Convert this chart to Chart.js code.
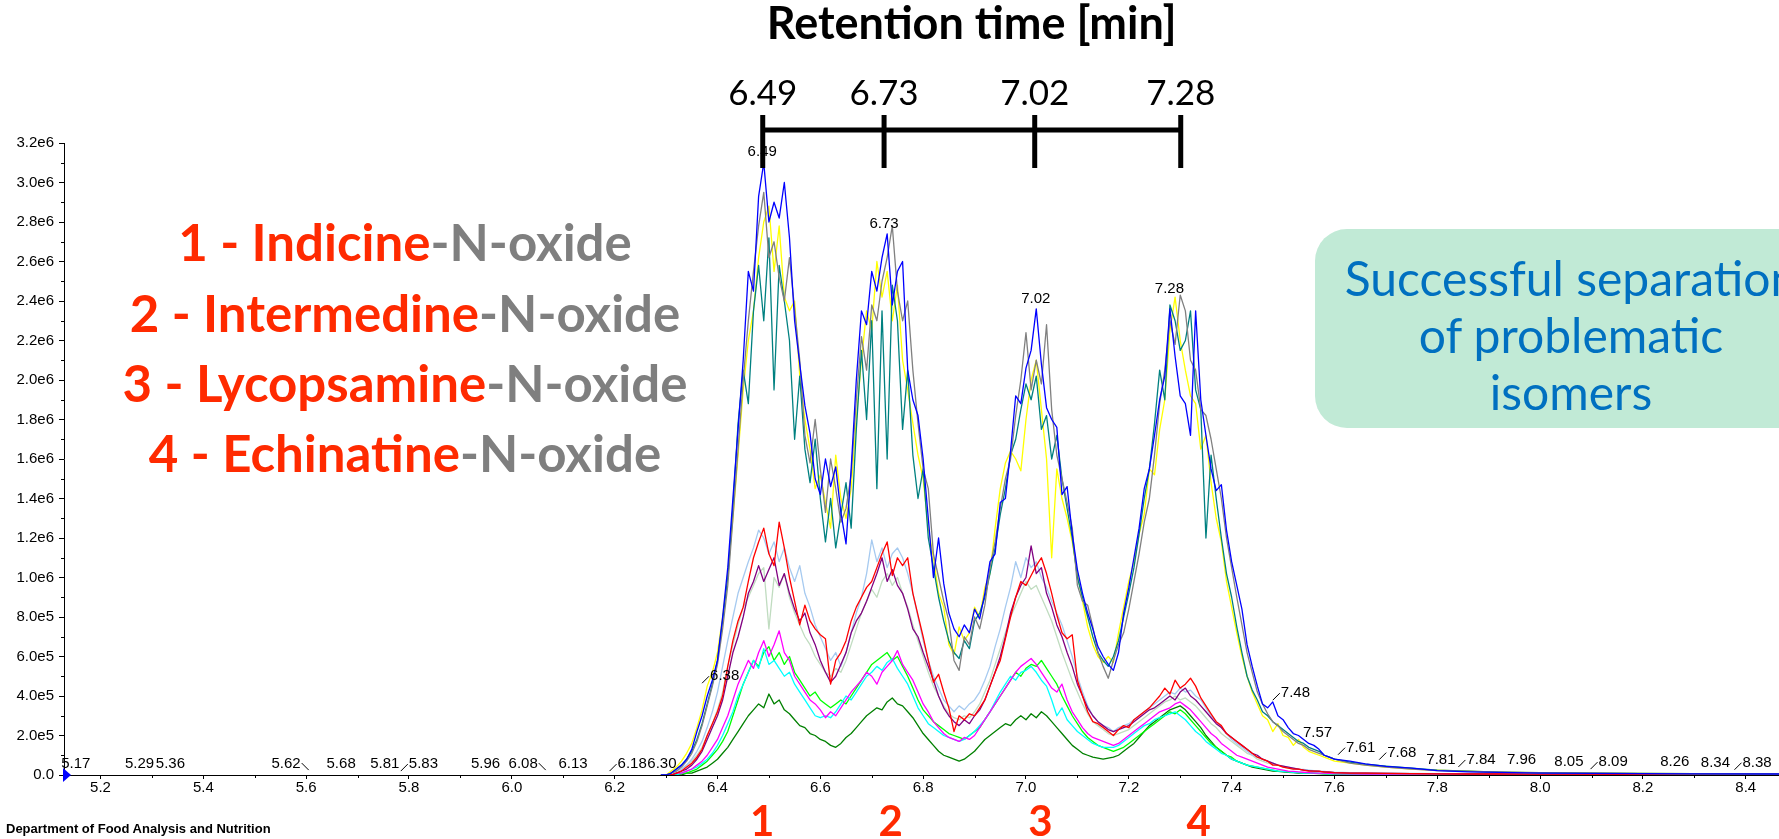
<!DOCTYPE html>
<html><head><meta charset="utf-8">
<script src="https://cdn.jsdelivr.net/npm/chart.js@4.4.1/dist/chart.umd.min.js"></script>
<style>
html,body{margin:0;padding:0;background:#fff;overflow:hidden;width:1779px;height:839px;}
#wrap{position:relative;width:1779px;height:839px;overflow:hidden;background:#fff;}
canvas{position:absolute;left:0;top:0;}
.lg{position:absolute;left:55px;width:700px;text-align:center;font:700 51px Lato,sans-serif;height:70px;line-height:70px;white-space:nowrap;}
.lg .r{color:#ff2a00}.lg .g{color:#7f7f7f}
#box{position:absolute;left:1315px;top:229px;width:540px;height:199px;background:#c1ead6;border-radius:32px;}
.bx{position:absolute;left:1271px;width:600px;text-align:center;font:400 48px Lato,sans-serif;color:#0070c0;height:57px;line-height:57px;white-space:nowrap;}
#dept{position:absolute;left:6px;top:821px;font:700 13px "Liberation Sans Narrow","Liberation Sans",sans-serif;color:#000;white-space:nowrap;}
</style></head>
<body><div id="wrap">
<canvas id="c" width="1779" height="839"></canvas>
<div class="lg" style="top:207px"><span class="r">1 - Indicine</span><span class="g">-N-oxide</span></div>
<div class="lg" style="top:278px"><span class="r">2 - Intermedine</span><span class="g">-N-oxide</span></div>
<div class="lg" style="top:348px"><span class="r">3 - Lycopsamine</span><span class="g">-N-oxide</span></div>
<div class="lg" style="top:418px"><span class="r">4 - Echinatine</span><span class="g">-N-oxide</span></div>
<div id="box"></div>
<div class="bx" style="top:249px">Successful separation</div>
<div class="bx" style="top:306px">of problematic</div>
<div class="bx" style="top:363px">isomers</div>
<div id="dept">Department of Food Analysis and Nutrition</div>
</div>
<script>
// ---- retention time grid (min) ----
const times = [6.29,
 6.30,6.31,6.32,6.33,6.34,6.35,6.36,6.37,6.38,6.39,
 6.40,6.41,6.42,6.43,6.44,6.45,6.46,6.47,6.48,6.49,
 6.50,6.51,6.52,6.53,6.54,6.55,6.56,6.57,6.58,6.59,
 6.60,6.61,6.62,6.63,6.64,6.65,6.66,6.67,6.68,6.69,
 6.70,6.71,6.72,6.73,6.74,6.75,6.76,6.77,6.78,6.79,
 6.80,6.81,6.82,6.83,6.84,6.85,6.86,6.87,6.88,6.89,
 6.90,6.91,6.92,6.93,6.94,6.95,6.96,6.97,6.98,6.99,
 7.00,7.01,7.02,7.03,7.04,7.05,7.06,7.07,7.08,7.09,
 7.10,7.11,7.12,7.13,7.14,7.15,7.16,7.17,7.18,7.19,
 7.20,7.21,7.22,7.23,7.24,7.25,7.26,7.27,7.28,7.29,
 7.30,7.31,7.32,7.33,7.34,7.35,7.36,7.37,7.38,7.39,
 7.40,7.41,7.42,7.43,7.44,7.45,7.46,7.47,7.48,7.49,
 7.50,7.51,7.52,7.53,7.54,7.55,7.56,7.57,7.58,7.59,
 7.60,
 7.63,7.66,7.70,7.75,7.80,7.86,7.92,8.00,8.10,8.20,8.30,8.50];

// ---- intensities (units of 1e6 counts) ----
const blueTrace = [0,
 0.00,0.01,0.03,0.05,0.08,0.13,0.22,0.30,0.40,0.48,
 0.58,0.80,1.05,1.40,1.75,2.10,2.55,2.45,2.93,3.10,
 2.80,2.90,2.82,3.00,2.72,2.30,2.08,1.87,1.73,1.50,
 1.42,1.60,1.46,1.56,1.33,1.17,1.55,2.00,2.35,2.28,
 2.55,2.45,2.62,2.74,2.38,2.55,2.60,2.05,1.90,1.82,
 1.60,1.30,1.00,1.20,0.97,0.82,0.74,0.70,0.76,0.72,
 0.84,0.79,0.92,1.08,1.12,1.38,1.40,1.64,1.92,1.88,
 2.06,2.15,2.36,2.08,1.86,1.80,1.76,1.42,1.46,1.22,
 1.04,0.92,0.82,0.74,0.65,0.60,0.56,0.53,0.62,0.82,
 0.95,1.10,1.25,1.45,1.55,1.72,1.90,2.02,2.36,2.12,
 1.92,1.88,1.72,2.35,1.90,1.72,1.55,1.44,1.47,1.24,
 1.08,0.96,0.84,0.66,0.55,0.45,0.36,0.34,0.37,0.30,
 0.28,0.24,0.21,0.20,0.18,0.16,0.15,0.13,0.10,0.09,
 0.08,
 0.07,0.056,0.044,0.035,0.022,0.016,0.013,0.009,0.008,0.007,0.006,0.005];

const grayTrace = [0,
 0.00,0.01,0.02,0.04,0.07,0.11,0.17,0.25,0.35,0.45,
 0.56,0.74,0.96,1.30,1.65,2.00,2.30,2.55,2.78,2.95,
 2.62,2.70,2.52,2.40,2.62,2.36,2.10,1.72,1.58,1.80,
 1.55,1.33,1.60,1.45,1.28,1.35,1.52,1.90,2.22,2.05,
 2.38,2.30,2.50,2.62,2.78,2.45,2.30,2.40,2.05,1.78,
 1.55,1.45,1.12,1.00,0.88,0.78,0.58,0.53,0.70,0.66,
 0.80,0.74,0.86,1.05,1.18,1.35,1.50,1.60,1.82,2.00,
 2.24,1.95,2.10,1.98,2.28,1.85,1.62,1.50,1.38,1.25,
 0.96,0.88,0.86,0.75,0.62,0.55,0.49,0.58,0.66,0.72,
 0.84,0.98,1.12,1.28,1.40,1.62,1.88,2.05,2.30,2.18,
 2.43,2.35,2.10,2.05,1.85,1.82,1.70,1.55,1.40,1.20,
 1.05,0.90,0.76,0.62,0.52,0.42,0.36,0.31,0.27,0.25,
 0.22,0.20,0.18,0.16,0.15,0.13,0.12,0.11,0.10,0.09,
 0.08,
 0.06,0.05,0.04,0.03,0.022,0.018,0.014,0.011,0.009,0.007,0.006,0.005];

const yellowTrace = [0,
 0.00,0.02,0.04,0.07,0.11,0.16,0.24,0.33,0.45,0.52,
 0.62,0.80,1.02,1.30,1.62,1.95,2.20,2.35,2.62,2.80,
 2.88,2.55,2.78,2.42,2.35,2.40,2.02,1.80,1.65,1.45,
 1.52,1.38,1.25,1.62,1.40,1.30,1.45,1.80,2.10,2.35,
 2.25,2.60,2.42,2.55,2.30,2.48,2.10,1.95,1.78,1.62,
 1.50,1.25,1.10,0.92,0.85,0.66,0.61,0.75,0.68,0.72,
 0.85,0.80,0.95,1.02,1.25,1.45,1.58,1.64,1.60,1.54,
 1.80,2.00,2.10,1.85,1.60,1.10,1.55,1.40,1.30,1.18,
 1.02,0.88,0.75,0.66,0.60,0.57,0.60,0.57,0.72,0.85,
 0.98,1.08,1.22,1.32,1.55,1.52,1.75,1.90,2.25,2.42,
 2.20,2.05,1.92,1.88,1.65,1.72,1.48,1.30,1.18,0.98,
 0.85,0.72,0.60,0.50,0.42,0.36,0.30,0.28,0.22,0.26,
 0.20,0.19,0.15,0.18,0.14,0.12,0.11,0.10,0.09,0.08,
 0.07,
 0.06,0.05,0.04,0.03,0.025,0.02,0.015,0.012,0.01,0.008,0.007,0.006];

const tealTrace = [0,
 0.00,0.01,0.03,0.05,0.08,0.12,0.18,0.26,0.36,0.46,
 0.58,0.78,1.00,1.35,1.78,2.05,1.88,2.35,2.58,2.30,
 2.72,1.95,2.58,2.40,2.20,1.70,2.02,1.65,1.48,1.70,
 1.40,1.18,1.40,1.15,1.32,1.48,1.25,1.75,2.15,1.80,
 2.30,1.45,2.35,1.60,2.48,2.30,1.75,2.05,1.62,1.40,
 1.55,1.20,1.05,0.90,0.78,0.68,0.62,0.59,0.68,0.64,
 0.78,0.82,0.90,1.02,1.15,1.32,1.45,1.62,1.70,1.85,
 1.98,1.90,2.02,1.75,1.82,1.60,1.72,1.50,1.35,1.20,
 1.00,0.90,0.80,0.70,0.62,0.58,0.55,0.60,0.68,0.80,
 0.92,1.05,1.22,1.40,1.55,1.78,2.05,1.90,2.38,2.30,
 2.15,2.20,2.35,1.95,1.85,1.20,1.62,1.40,1.20,1.02,
 0.90,0.75,0.62,0.50,0.43,0.38,0.32,0.30,0.27,0.25,
 0.23,0.21,0.19,0.17,0.16,0.14,0.13,0.12,0.10,0.09,
 0.08,
 0.065,0.055,0.045,0.035,0.025,0.02,0.015,0.012,0.01,0.008,0.007,0.006];

const redTrace = [0,
 0.00,0.00,0.01,0.02,0.04,0.06,0.09,0.13,0.20,0.26,
 0.32,0.40,0.55,0.68,0.78,0.85,0.98,1.10,1.18,1.25,
 1.12,1.06,1.28,1.15,1.00,0.88,0.76,0.86,0.78,0.74,
 0.71,0.69,0.46,0.58,0.62,0.68,0.78,0.85,0.90,0.95,
 0.98,1.05,1.12,1.18,1.01,1.10,1.06,1.10,0.92,0.81,
 0.70,0.58,0.47,0.51,0.42,0.34,0.22,0.30,0.28,0.31,
 0.30,0.34,0.38,0.45,0.52,0.58,0.69,0.80,0.90,0.98,
 0.96,1.01,1.06,1.10,1.02,0.92,0.81,0.72,0.69,0.71,
 0.48,0.40,0.32,0.27,0.26,0.24,0.22,0.20,0.23,0.25,
 0.24,0.28,0.30,0.32,0.34,0.37,0.40,0.44,0.41,0.48,
 0.44,0.46,0.49,0.45,0.39,0.35,0.31,0.27,0.25,0.21,
 0.19,0.17,0.15,0.13,0.11,0.09,0.08,0.07,0.05,0.05,
 0.04,0.035,0.03,0.03,0.025,0.02,0.02,0.02,0.015,0.015,
 0.012,
 0.01,0.01,0.008,0.007,0.006,0.005,0.005,0.004,0.004,0.003,0.003,0.003];

const purpleTrace = [0,
 0.00,0.00,0.01,0.02,0.03,0.05,0.08,0.12,0.18,0.24,
 0.30,0.38,0.50,0.62,0.70,0.80,0.92,0.98,1.06,0.98,
 1.04,1.10,0.96,1.02,0.92,0.84,0.78,0.82,0.72,0.66,
 0.58,0.52,0.47,0.50,0.56,0.62,0.72,0.78,0.82,0.88,
 0.95,1.02,1.10,0.98,1.04,0.96,0.92,0.84,0.74,0.70,
 0.62,0.55,0.48,0.40,0.34,0.30,0.27,0.25,0.28,0.26,
 0.30,0.33,0.38,0.45,0.52,0.60,0.70,0.82,0.90,0.96,
 1.00,1.16,1.02,1.05,0.92,0.85,0.76,0.70,0.62,0.55,
 0.46,0.40,0.34,0.30,0.27,0.25,0.23,0.22,0.23,0.24,
 0.25,0.27,0.29,0.31,0.33,0.34,0.36,0.38,0.40,0.38,
 0.42,0.44,0.40,0.38,0.35,0.32,0.29,0.26,0.24,0.21,
 0.19,0.17,0.15,0.13,0.11,0.10,0.08,0.07,0.06,0.05,
 0.045,0.04,0.035,0.03,0.025,0.022,0.02,0.018,0.016,0.014,
 0.012,
 0.01,0.009,0.008,0.007,0.006,0.005,0.005,0.004,0.004,0.003,0.003,0.003];

const lightBlueTrace = [0,
 0.00,0.01,0.02,0.03,0.05,0.08,0.12,0.17,0.24,0.32,
 0.42,0.55,0.68,0.80,0.92,1.00,1.08,1.15,1.24,1.20,
 1.12,1.18,1.08,1.15,1.05,0.98,1.06,0.92,0.85,0.76,
 0.70,0.64,0.58,0.62,0.55,0.62,0.72,0.82,0.90,1.02,
 1.19,1.08,1.15,1.05,1.12,1.15,1.10,1.02,0.92,0.80,
 0.68,0.58,0.50,0.44,0.38,0.35,0.32,0.35,0.33,0.36,
 0.38,0.42,0.48,0.55,0.65,0.74,0.85,0.95,1.08,1.00,
 1.10,1.05,1.08,1.00,0.95,0.88,0.82,0.76,0.68,0.60,
 0.50,0.42,0.35,0.30,0.27,0.25,0.24,0.22,0.24,0.25,
 0.26,0.28,0.30,0.32,0.34,0.36,0.38,0.40,0.42,0.41,
 0.44,0.42,0.43,0.40,0.38,0.34,0.30,0.27,0.24,0.21,
 0.18,0.16,0.14,0.12,0.10,0.09,0.08,0.07,0.06,0.05,
 0.045,0.04,0.035,0.03,0.028,0.025,0.022,0.02,0.018,0.016,
 0.014,
 0.012,0.01,0.009,0.008,0.007,0.006,0.005,0.004,0.004,0.003,0.003,0.003];

const grayGreenTrace = [0,
 0.00,0.01,0.02,0.03,0.05,0.07,0.10,0.14,0.20,0.26,
 0.33,0.42,0.55,0.66,0.76,0.85,0.90,0.96,1.02,1.05,
 0.74,1.00,0.95,1.02,0.90,0.82,0.76,0.70,0.66,0.60,
 0.56,0.52,0.50,0.54,0.52,0.58,0.66,0.74,0.82,0.88,
 0.94,0.90,0.98,1.02,0.96,1.00,0.92,0.85,0.76,0.68,
 0.60,0.52,0.45,0.40,0.35,0.31,0.29,0.28,0.30,0.29,
 0.32,0.36,0.42,0.48,0.56,0.64,0.72,0.80,0.86,0.92,
 0.98,0.94,0.96,0.90,0.84,0.78,0.70,0.62,0.55,0.48,
 0.42,0.36,0.31,0.27,0.25,0.23,0.21,0.20,0.21,0.22,
 0.23,0.25,0.27,0.29,0.31,0.33,0.35,0.37,0.38,0.40,
 0.38,0.39,0.37,0.35,0.32,0.29,0.26,0.24,0.21,0.19,
 0.17,0.15,0.13,0.11,0.10,0.08,0.07,0.06,0.055,0.05,
 0.04,0.035,0.03,0.028,0.025,0.022,0.02,0.018,0.016,0.014,
 0.012,
 0.01,0.009,0.008,0.007,0.006,0.005,0.005,0.004,0.004,0.003,0.003,0.003];

const magentaTrace = [0,
 0.00,0.00,0.01,0.01,0.02,0.03,0.05,0.07,0.10,0.14,
 0.18,0.24,0.30,0.38,0.46,0.52,0.58,0.54,0.62,0.68,
 0.60,0.66,0.73,0.62,0.58,0.50,0.46,0.42,0.38,0.36,
 0.33,0.29,0.32,0.30,0.34,0.38,0.42,0.45,0.48,0.52,
 0.50,0.46,0.52,0.55,0.58,0.63,0.56,0.52,0.48,0.42,
 0.36,0.32,0.27,0.24,0.21,0.19,0.18,0.17,0.19,0.18,
 0.20,0.24,0.28,0.32,0.36,0.40,0.44,0.48,0.52,0.55,
 0.57,0.59,0.56,0.52,0.48,0.44,0.42,0.46,0.38,0.32,
 0.28,0.24,0.21,0.19,0.18,0.17,0.16,0.15,0.16,0.18,
 0.20,0.22,0.24,0.26,0.28,0.30,0.32,0.33,0.34,0.36,
 0.37,0.35,0.33,0.30,0.27,0.24,0.21,0.19,0.16,0.14,
 0.12,0.10,0.09,0.08,0.07,0.06,0.05,0.04,0.035,0.03,
 0.025,0.02,0.018,0.016,0.014,0.012,0.01,0.01,0.009,0.008,
 0.007,
 0.006,0.005,0.005,0.004,0.004,0.003,0.003,0.003,0.002,0.002,0.002,0.002];

const cyanTrace = [0,
 0.00,0.00,0.00,0.01,0.02,0.03,0.04,0.06,0.08,0.11,
 0.15,0.20,0.26,0.32,0.40,0.46,0.52,0.58,0.54,0.64,
 0.56,0.58,0.54,0.50,0.52,0.46,0.42,0.38,0.34,0.30,
 0.29,0.30,0.29,0.32,0.36,0.40,0.38,0.42,0.46,0.50,
 0.52,0.55,0.53,0.57,0.59,0.54,0.50,0.46,0.40,0.34,
 0.30,0.26,0.24,0.22,0.20,0.19,0.18,0.17,0.18,0.20,
 0.22,0.25,0.28,0.32,0.37,0.42,0.46,0.50,0.48,0.52,
 0.53,0.55,0.52,0.48,0.45,0.38,0.30,0.34,0.28,0.25,
 0.22,0.20,0.18,0.16,0.15,0.14,0.14,0.14,0.15,0.17,
 0.19,0.21,0.23,0.25,0.26,0.28,0.29,0.30,0.31,0.32,
 0.30,0.28,0.25,0.22,0.20,0.17,0.15,0.13,0.11,0.10,
 0.08,0.07,0.06,0.05,0.045,0.04,0.035,0.03,0.025,0.02,
 0.018,0.016,0.014,0.012,0.01,0.01,0.009,0.008,0.007,0.006,
 0.006,
 0.005,0.005,0.004,0.004,0.003,0.003,0.003,0.002,0.002,0.002,0.002,0.002];

const limeTrace = [0,
 0.00,0.00,0.00,0.01,0.01,0.02,0.03,0.05,0.07,0.10,
 0.13,0.17,0.22,0.30,0.38,0.46,0.52,0.58,0.55,0.62,
 0.65,0.58,0.62,0.56,0.60,0.52,0.48,0.44,0.40,0.42,
 0.38,0.36,0.34,0.36,0.38,0.36,0.40,0.44,0.48,0.52,
 0.56,0.58,0.60,0.62,0.58,0.60,0.55,0.50,0.44,0.38,
 0.33,0.30,0.27,0.25,0.23,0.21,0.20,0.19,0.18,0.20,
 0.22,0.24,0.28,0.32,0.36,0.40,0.44,0.48,0.52,0.50,
 0.54,0.56,0.55,0.58,0.54,0.50,0.46,0.40,0.35,0.30,
 0.26,0.22,0.19,0.17,0.15,0.14,0.13,0.12,0.13,0.14,
 0.16,0.18,0.20,0.22,0.24,0.26,0.28,0.30,0.32,0.31,
 0.33,0.31,0.28,0.25,0.22,0.19,0.16,0.14,0.12,0.10,
 0.09,0.07,0.06,0.05,0.045,0.04,0.035,0.03,0.025,0.02,
 0.018,0.016,0.014,0.012,0.01,0.01,0.009,0.008,0.007,0.006,
 0.006,
 0.005,0.005,0.004,0.004,0.003,0.003,0.003,0.002,0.002,0.002,0.002,0.002];

const darkGreenTrace = [0,
 0.00,0.00,0.00,0.00,0.01,0.01,0.02,0.03,0.04,0.06,
 0.08,0.11,0.14,0.18,0.22,0.26,0.30,0.33,0.36,0.34,
 0.41,0.36,0.38,0.33,0.31,0.28,0.25,0.24,0.21,0.20,
 0.18,0.17,0.15,0.14,0.16,0.19,0.21,0.24,0.27,0.30,
 0.32,0.34,0.33,0.37,0.39,0.36,0.35,0.32,0.29,0.25,
 0.21,0.18,0.15,0.12,0.10,0.09,0.08,0.07,0.08,0.10,
 0.12,0.15,0.18,0.20,0.22,0.24,0.26,0.25,0.28,0.30,
 0.28,0.31,0.29,0.32,0.30,0.27,0.24,0.21,0.18,0.15,
 0.13,0.11,0.10,0.09,0.085,0.08,0.085,0.09,0.10,0.12,
 0.14,0.16,0.19,0.22,0.25,0.27,0.29,0.31,0.33,0.34,
 0.35,0.33,0.30,0.27,0.24,0.20,0.17,0.14,0.12,0.10,
 0.08,0.07,0.06,0.05,0.04,0.035,0.03,0.025,0.02,0.018,
 0.016,0.014,0.012,0.01,0.01,0.009,0.008,0.007,0.006,0.006,
 0.005,
 0.005,0.004,0.004,0.003,0.003,0.003,0.002,0.002,0.002,0.002,0.002,0.002];

// ---- axis ticks ----
const xTickValues = [5.2,5.4,5.6,5.8,6.0,6.2,6.4,6.6,6.8,7.0,7.2,7.4,7.6,7.8,8.0,8.2,8.4];
const xTickLabels = ['5.2','5.4','5.6','5.8','6.0','6.2','6.4','6.6','6.8','7.0','7.2','7.4','7.6','7.8','8.0','8.2','8.4'];
const xMinorTicks = [5.3,5.5,5.7,5.9,6.1,6.3,6.5,6.7,6.9,7.1,7.3,7.5,7.7,7.9,8.1,8.3];
const yTickValues = [0,0.2,0.4,0.6,0.8,1.0,1.2,1.4,1.6,1.8,2.0,2.2,2.4,2.6,2.8,3.0,3.2];
const yTickLabels = ['0.0','2.0e5','4.0e5','6.0e5','8.0e5','1.0e6','1.2e6','1.4e6','1.6e6','1.8e6','2.0e6','2.2e6','2.4e6','2.6e6','2.8e6','3.0e6','3.2e6'];
const yMinorTicks = [0.1,0.3,0.5,0.7,0.9,1.1,1.3,1.5,1.7,1.9,2.1,2.3,2.5,2.7,2.9,3.1];

// ---- peak annotations (label text, where it is drawn in time, baseline intensity, leader side) ----
const peakLabelTexts = ['5.17','5.29','5.36','5.62','5.68','5.81','5.83','5.96','6.08','6.13','6.18','6.30','6.38','6.49','6.73','7.02','7.28','7.48','7.57','7.61','7.68','7.81','7.84','7.96','8.05','8.09','8.26','8.34','8.38'];
const peakLabelTimes = [5.152,5.276,5.336,5.561,5.668,5.753,5.828,5.949,6.022,6.119,6.234,6.292,6.414,6.487,6.724,7.019,7.279,7.524,7.567,7.651,7.731,7.807,7.885,7.964,8.056,8.142,8.262,8.341,8.422];
const peakLabelHeights = [0.035,0.035,0.035,0.035,0.035,0.035,0.035,0.035,0.035,0.035,0.035,0.035,0.48,3.136,2.77,2.39,2.44,0.394,0.19,0.118,0.093,0.056,0.056,0.056,0.045,0.045,0.046,0.042,0.042];
const peakLabelLeader = [0,0,0,1,0,0,-1,0,1,0,-1,0,-1,0,0,0,0,-1,0,-1,-1,0,-1,0,0,-1,0,0,-1];

// ---- slide annotations ----
const bracketLabels = ['6.49','6.73','7.02','7.28'];
const bracketTimes = [6.488,6.724,7.017,7.301];
const isomerLabels = ['1','2','3','4'];
const isomerTimes = [6.487,6.737,7.028,7.336];

const series = [
  {name:'blue', values: blueTrace, color:'#0000ff'},
  {name:'gray', values: grayTrace, color:'#808080'},
  {name:'teal', values: tealTrace, color:'#008080'},
  {name:'yellow', values: yellowTrace, color:'#ffff00'},
  {name:'red', values: redTrace, color:'#ff0000'},
  {name:'purple', values: purpleTrace, color:'#800080'},
  {name:'lightblue', values: lightBlueTrace, color:'#a6caf0'},
  {name:'graygreen', values: grayGreenTrace, color:'#c0dcc0'},
  {name:'magenta', values: magentaTrace, color:'#ff00ff'},
  {name:'cyan', values: cyanTrace, color:'#00ffff'},
  {name:'lime', values: limeTrace, color:'#00ff00'},
  {name:'darkgreen', values: darkGreenTrace, color:'#008000'}
];
series.forEach(s => { if (s.values.length !== times.length) console.error(s.name, s.values.length, times.length); });

const datasets = series.map(s => ({
  label: s.name,
  data: times.map((t, i) => ({x: t, y: s.values[i]})).filter(p => p.y !== undefined),
  borderColor: s.color,
  backgroundColor: s.color,
  borderWidth: 1.3,
  pointRadius: 0,
  tension: 0,
  fill: false,
  borderJoinStyle: 'round'
}));

const tickFont = {family: '"Liberation Sans", Arial, sans-serif', size: 15};

const overlay = {
  id: 'overlay',
  afterDraw(chart) {
    const {ctx, chartArea: ca, scales: {x, y}} = chart;
    ctx.save();
    // minor ticks
    ctx.strokeStyle = '#000'; ctx.lineWidth = 1;
    xMinorTicks.forEach(v => {
      const px = Math.round(x.getPixelForValue(v)) + 0.5;
      ctx.beginPath(); ctx.moveTo(px, ca.bottom); ctx.lineTo(px, ca.bottom + 3); ctx.stroke();
    });
    yMinorTicks.forEach(v => {
      const py = Math.round(y.getPixelForValue(v)) + 0.5;
      ctx.beginPath(); ctx.moveTo(ca.left - 3, py); ctx.lineTo(ca.left, py); ctx.stroke();
    });
    // origin marker
    ctx.fillStyle = '#0000ff';
    ctx.beginPath();
    ctx.moveTo(ca.left - 1, ca.bottom - 7); ctx.lineTo(ca.left + 7, ca.bottom); ctx.lineTo(ca.left - 1, ca.bottom + 7);
    ctx.closePath(); ctx.fill();
    // peak labels
    ctx.font = '15px "Liberation Sans", Arial, sans-serif';
    ctx.fillStyle = '#000'; ctx.textBaseline = 'alphabetic'; ctx.textAlign = 'left';
    ctx.strokeStyle = '#000'; ctx.lineWidth = 1;
    peakLabelTexts.forEach((txt, i) => {
      const cx = x.getPixelForValue(peakLabelTimes[i]);
      const by = y.getPixelForValue(peakLabelHeights[i]);
      const w = ctx.measureText(txt).width;
      const left = cx - w / 2;
      ctx.fillText(txt, left, by);
      const side = peakLabelLeader[i];
      if (side < 0) {
        ctx.beginPath(); ctx.moveTo(left - 8, by + 3); ctx.lineTo(left - 1, by - 4); ctx.stroke();
      } else if (side > 0) {
        ctx.beginPath(); ctx.moveTo(left + w + 1, by - 5); ctx.lineTo(left + w + 8, by + 2); ctx.stroke();
      }
    });
    // retention-time bracket
    const bx = bracketTimes.map(t => x.getPixelForValue(t));
    ctx.strokeStyle = '#000'; ctx.lineWidth = 5; ctx.lineCap = 'butt';
    ctx.beginPath(); ctx.moveTo(bx[0], 130); ctx.lineTo(bx[bx.length - 1], 130); ctx.stroke();
    bx.forEach(px => { ctx.beginPath(); ctx.moveTo(px, 115); ctx.lineTo(px, 168); ctx.stroke(); });
    ctx.fillStyle = '#000'; ctx.textAlign = 'center'; ctx.textBaseline = 'alphabetic';
    ctx.font = '400 35px Lato, sans-serif';
    bracketLabels.forEach((l, i) => ctx.fillText(l, bx[i], 105));
    ctx.font = '700 45px Lato, sans-serif';
    ctx.fillText('Retention time [min]', (bx[0] + bx[bx.length - 1]) / 2, 39);
    // isomer numbers
    ctx.fillStyle = '#ff2a00'; ctx.font = '700 42px Lato, sans-serif';
    isomerTimes.forEach((t, i) => ctx.fillText(isomerLabels[i], x.getPixelForValue(t), 836));
    ctx.restore();
  }
};

new Chart(document.getElementById('c').getContext('2d'), {
  type: 'line',
  data: {datasets},
  options: {
    responsive: false,
    animation: false,
    devicePixelRatio: 1,
    parsing: true,
    layout: {padding: {top: 143, left: 0, right: 0, bottom: 0}},
    plugins: {legend: {display: false}, tooltip: {enabled: false}},
    scales: {
      x: {
        type: 'linear', min: 5.129, max: 8.4646,
        afterFit(s) { s.height = 64; },
        afterBuildTicks(s) { s.ticks = xTickValues.map(v => ({value: v})); },
        ticks: {autoSkip: false, maxRotation: 0, color: '#000', font: tickFont, padding: 0,
                callback: (v, i) => xTickLabels[i]},
        grid: {display: true, drawOnChartArea: false, drawTicks: true, tickLength: 4, color: '#000', lineWidth: 1},
        border: {display: true, color: '#000', width: 1}
      },
      y: {
        type: 'linear', min: 0, max: 3.2,
        afterFit(s) { s.width = 64; },
        afterBuildTicks(s) { s.ticks = yTickValues.map(v => ({value: v})); },
        ticks: {autoSkip: false, color: '#000', font: tickFont, padding: 5,
                callback: (v, i) => yTickLabels[i]},
        grid: {display: true, drawOnChartArea: false, drawTicks: true, tickLength: 5, color: '#000', lineWidth: 1},
        border: {display: true, color: '#000', width: 1}
      }
    }
  },
  plugins: [overlay]
});
</script>
</body></html>
